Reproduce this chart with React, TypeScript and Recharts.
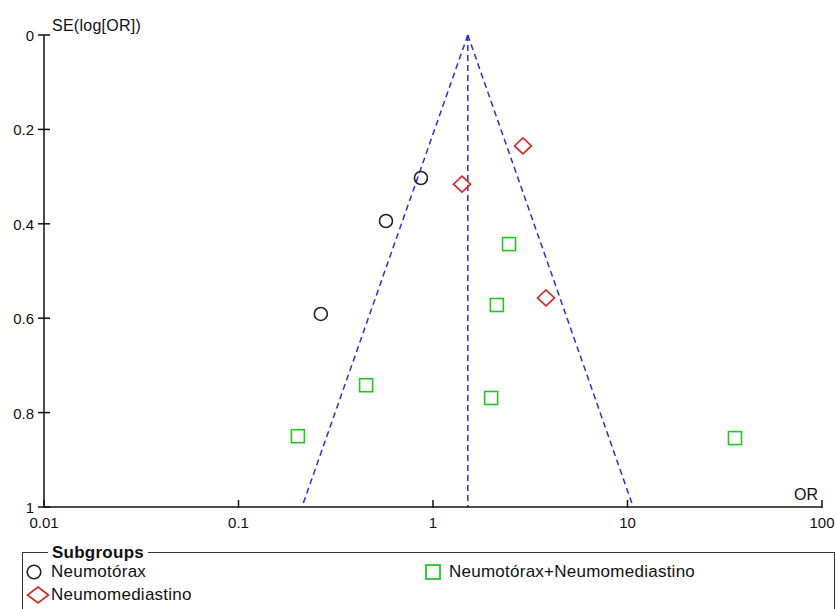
import React from 'react';
import {
  ScatterChart,
  Scatter,
  XAxis,
  YAxis,
  ReferenceLine,
} from 'recharts';

const neumotoraxOR = [0.867, 0.573, 0.265];
const neumotoraxSE = [0.303, 0.394, 0.591];

const neumomediastinoOR = [2.9, 1.41, 3.81];
const neumomediastinoSE = [0.235, 0.316, 0.557];

const mixtoOR = [2.46, 2.13, 0.453, 1.99, 0.202, 35.7];
const mixtoSE = [0.443, 0.572, 0.742, 0.769, 0.85, 0.854];

const xTicks = [0.01, 0.1, 1, 10, 100];
const yTicks = [0, 0.2, 0.4, 0.6, 0.8, 1];

// pooled OR and funnel limits at SE = 1
const pooledOR = 1.51;
const funnelLow = 0.212;
const funnelHigh = 10.7;

const FONT = '"Liberation Sans", Arial, sans-serif';
const FUNNEL_BLUE = '#2a2ee0';

const toPoints = (or: number[], se: number[]) => or.map((x, i) => ({ x, y: se[i] }));

const circleShape = (p: any) => (
  <circle cx={p.cx} cy={p.cy} r={6.5} fill="none" stroke="#222" strokeWidth={1.6} />
);
const diamondShape = (p: any) => (
  <polygon
    points={`${p.cx},${p.cy - 8} ${p.cx + 8.5},${p.cy} ${p.cx},${p.cy + 8} ${p.cx - 8.5},${p.cy}`}
    fill="none"
    stroke="#d42424"
    strokeWidth={1.6}
  />
);
const squareShape = (p: any) => (
  <rect x={p.cx - 6.5} y={p.cy - 6.5} width={13} height={13} fill="none" stroke="#1ec81e" strokeWidth={1.6} />
);

const XTick = (p: any) => (
  <g>
    <line x1={p.x} x2={p.x} y1={p.y - 7} y2={p.y + 1} stroke="#111" strokeWidth={1.5} />
    <text x={p.x} y={p.y + 21} textAnchor="middle" fontSize={15} fontFamily={FONT} fill="#111">
      {String(p.payload.value)}
    </text>
  </g>
);

const YTick = (p: any) => (
  <g>
    <line x1={p.x - 6} x2={p.x + 6} y1={p.y} y2={p.y} stroke="#111" strokeWidth={1.5} />
    <text x={p.x - 10} y={p.y + 6} textAnchor="end" fontSize={15} fontFamily={FONT} fill="#111">
      {String(p.payload.value)}
    </text>
  </g>
);

const legendText: React.CSSProperties = {
  position: 'absolute',
  fontSize: 17,
  fontFamily: FONT,
  color: '#111',
  lineHeight: '20px',
  letterSpacing: 0.25,
  whiteSpace: 'nowrap',
};

export default function App() {
  return (
    <div style={{ position: 'absolute', left: 0, top: 0, width: 836, height: 609, background: '#fff', overflow: 'hidden' }}>
      <ScatterChart width={836} height={540} margin={{ top: 35, right: 14, bottom: 0, left: 0 }}>
        <XAxis
          type="number"
          dataKey="x"
          scale="log"
          domain={[0.01, 100]}
          ticks={xTicks}
          allowDataOverflow
          height={33}
          tickSize={0}
          tickMargin={0}
          tickLine={false}
          tick={<XTick />}
          axisLine={{ stroke: '#111', strokeWidth: 1.5 }}
        />
        <YAxis
          type="number"
          dataKey="y"
          reversed
          domain={[0, 1]}
          ticks={yTicks}
          width={44}
          tickSize={0}
          tickMargin={0}
          tickLine={false}
          tick={<YTick />}
          axisLine={{ stroke: '#111', strokeWidth: 1.5 }}
        />
        <ReferenceLine
          segment={[{ x: pooledOR, y: 0 }, { x: funnelLow, y: 1 }]}
          stroke={FUNNEL_BLUE}
          strokeWidth={1.5}
          strokeDasharray="6 4"
          ifOverflow="visible"
        />
        <ReferenceLine
          segment={[{ x: pooledOR, y: 0 }, { x: funnelHigh, y: 1 }]}
          stroke={FUNNEL_BLUE}
          strokeWidth={1.5}
          strokeDasharray="6 4"
          ifOverflow="visible"
        />
        <ReferenceLine
          segment={[{ x: pooledOR, y: 0 }, { x: pooledOR, y: 1 }]}
          stroke={FUNNEL_BLUE}
          strokeWidth={1.5}
          strokeDasharray="6 4"
          ifOverflow="visible"
        />
        <Scatter data={toPoints(neumotoraxOR, neumotoraxSE)} shape={circleShape} isAnimationActive={false} />
        <Scatter data={toPoints(neumomediastinoOR, neumomediastinoSE)} shape={diamondShape} isAnimationActive={false} />
        <Scatter data={toPoints(mixtoOR, mixtoSE)} shape={squareShape} isAnimationActive={false} />
      </ScatterChart>

      <div style={{ ...legendText, fontSize: 16, left: 52, top: 16 }}>SE(log[OR])</div>
      <div style={{ ...legendText, fontSize: 16, left: 794, top: 485, letterSpacing: 0 }}>OR</div>

      <div
        style={{
          position: 'absolute',
          left: 22,
          top: 552,
          width: 811,
          height: 80,
          border: '1.5px solid #333',
        }}
      />
      <div style={{ ...legendText, left: 48, top: 543, fontWeight: 'bold', background: '#fff', padding: '0 4px' }}>
        Subgroups
      </div>

      <svg style={{ position: 'absolute', left: 0, top: 560 }} width={460} height={48}>
        <circle cx={34} cy={12} r={6.8} fill="none" stroke="#222" strokeWidth={1.6} />
        <polygon points="38,27 48.5,35 38,43 27.5,35" fill="none" stroke="#d42424" strokeWidth={1.6} />
        <rect x={426} y={5} width={14} height={14} fill="none" stroke="#1ec81e" strokeWidth={1.8} />
      </svg>
      <div style={{ ...legendText, left: 51, top: 562 }}>Neumotórax</div>
      <div style={{ ...legendText, left: 51, top: 585 }}>Neumomediastino</div>
      <div style={{ ...legendText, left: 449, top: 562 }}>Neumotórax+Neumomediastino</div>
    </div>
  );
}
